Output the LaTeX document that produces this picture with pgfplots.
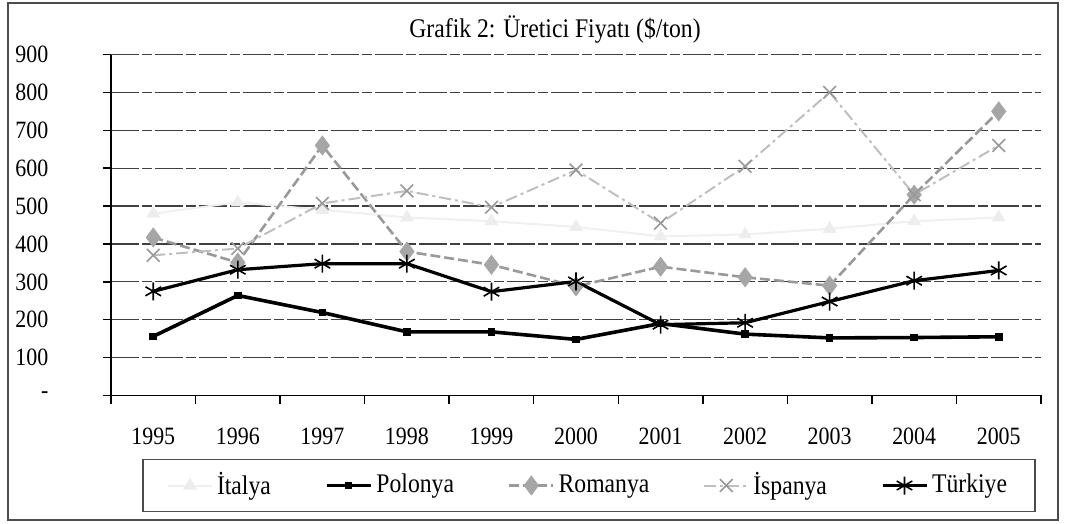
\documentclass[border=0pt]{standalone}
\usepackage{fontspec}
\setmainfont{Liberation Serif}[FakeStretch=0.88]
\usepackage{pgfplots}
\pgfplotsset{compat=1.18}
\begin{document}
\begin{tikzpicture}
\fontsize{12.5}{15}\selectfont
\path[use as bounding box] (0,0) rectangle (533bp,262bp);
\draw[black!70, line width=0.6bp] (4bp,2bp) rectangle (529bp,260.5bp);
\begin{axis}[
  at={(55.5bp,64.25bp)}, anchor=south west,
  scale only axis, width=465bp, height=170.5bp,
  xmin=-0.5, xmax=10.5, ymin=0, ymax=900,
  axis x line*=bottom, axis y line*=left,
  axis line style={black, line width=0.8bp, -},
  font=\fontsize{12.5}{15}\selectfont,
  tick align=outside, major tick length=4bp,
  tick style={black, line width=0.7bp},
  xtick={-0.5,0.5,1.5,2.5,3.5,4.5,5.5,6.5,7.5,8.5,9.5,10.5},
  xticklabels={},
  extra x ticks={0,1,2,3,4,5,6,7,8,9,10},
  extra x tick labels={1995,1996,1997,1998,1999,2000,2001,2002,2003,2004,2005},
  extra x tick style={major tick length=0pt, grid=none},
  xticklabel style={yshift=-12bp},
  ytick={0,100,200,300,400,500,600,700,800,900},
  yticklabels={{-\hspace{9bp}},100,200,300,400,500,600,700,800,900},
  yticklabel style={xshift=-23bp},
  ymajorgrids,
  major grid style={black!75, line width=0.6bp, dash pattern=on 14bp off 1.5bp on 5bp off 1.5bp},
  legend style={draw=black!70, line width=0.6bp, at={(0.514,-0.264)}, anchor=center,
    inner xsep=12bp, inner ysep=4.5bp,
    /tikz/every even column/.append style={column sep=25bp},
    font=\fontsize{13.5}{16}\selectfont},
  legend columns=5, legend cell align=left,
  legend image code/.code={\draw[mark repeat=2,mark phase=2,#1] plot coordinates {(0bp,0bp) (11bp,0bp) (22bp,0bp)};},
]
\addplot[black!6, line width=1bp, mark=triangle*, mark size=3bp, mark options={solid, fill=black!7, draw=black!7}]
  coordinates {(0,480) (1,510) (2,490) (3,470) (4,460) (5,445) (6,420) (7,425) (8,440) (9,460) (10,470)};
\addlegendentry{İtalya}
\addplot[black, line width=1.8bp, mark=square*, mark size=1bp, mark options={solid}]
  coordinates {(0,156) (1,264) (2,219) (3,168) (4,168) (5,148) (6,190) (7,162) (8,152) (9,153) (10,155)};
\addlegendentry{Polonya}
\addplot[black!40, line width=1.3bp, dash pattern=on 5bp off 2bp, mark=diamond*, mark size=4bp, mark options={solid, fill=black!35, draw=black!35}]
  coordinates {(0,417) (1,351) (2,660) (3,380) (4,345) (5,288) (6,340) (7,312) (8,290) (9,530) (10,750)};
\addlegendentry{Romanya}
\addplot[black!25, line width=1bp, dash pattern=on 6bp off 2bp on 1.5bp off 2bp, mark=x, mark size=4.5bp, mark options={solid, black!40, line width=0.8bp}]
  coordinates {(0,370) (1,388) (2,507) (3,540) (4,497) (5,595) (6,455) (7,605) (8,800) (9,530) (10,660)};
\addlegendentry{İspanya}
\addplot[black, line width=1.6bp, mark=asterisk, mark size=4.5bp, mark options={solid, line width=0.8bp}]
  coordinates {(0,275) (1,332) (2,348) (3,348) (4,274) (5,301) (6,187) (7,192) (8,248) (9,303) (10,330)};
\addlegendentry{Türkiye}
\end{axis}
\node[font=\fontsize{13.5}{16}\selectfont] at (277.5bp,247bp) {Grafik 2: Üretici Fiyatı (\$/ton)};
\end{tikzpicture}
\end{document}
